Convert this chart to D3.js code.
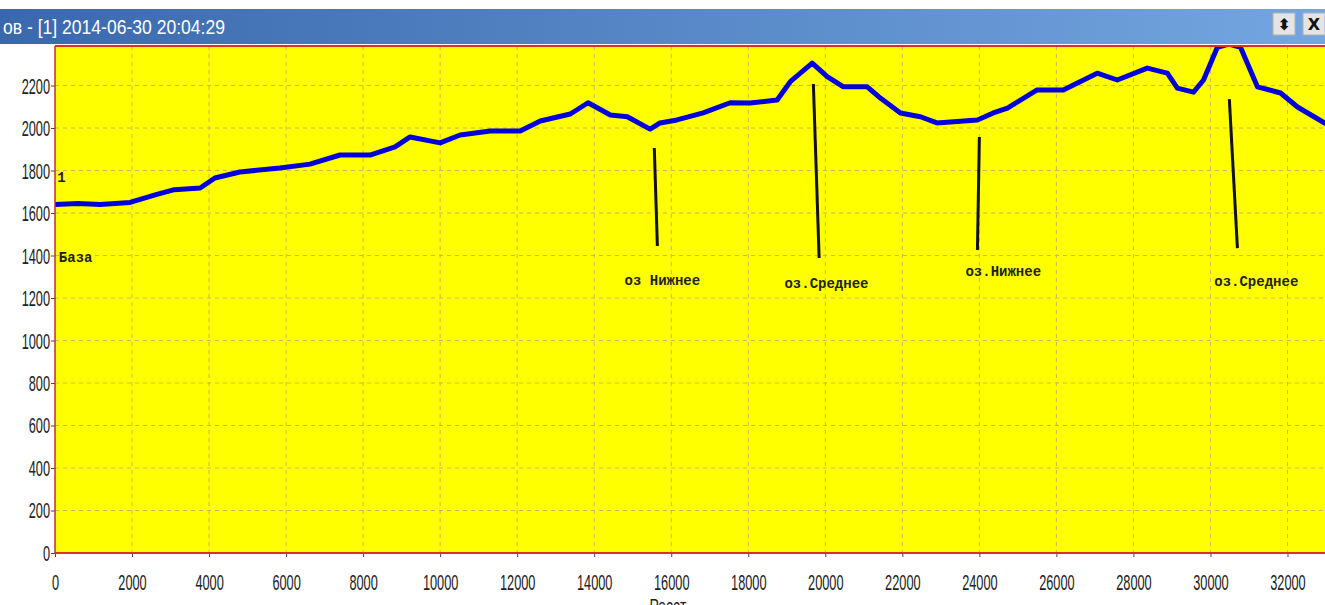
<!DOCTYPE html>
<meta charset="utf-8">
<style>
body { margin: 0; background: #fff; }
.tick text { font-family: "Liberation Sans", "DejaVu Sans", sans-serif; font-size: 22px; fill: #222; }
.grid line { stroke: #c9b75a; stroke-dasharray: 4,4; stroke-width: 1; }
.note { font-family: "Liberation Mono", "Courier New", monospace; font-weight: bold; font-size: 14px; fill: #222; }
.narrow { font-family: "Liberation Sans", "DejaVu Sans", sans-serif; }
</style>
<svg width="1325" height="605"></svg>
<script src="https://d3js.org/d3.v7.min.js"></script>
<script>
// profile data: distance / height
var dist = [0, 600, 1170, 1950, 2600, 3100, 3770, 4150, 4800, 5840, 6620, 7400, 8180, 8830, 9220, 10000, 10520, 11300, 12080, 12600, 13380, 13840,
            14420, 14860, 15450, 15710, 16150, 16830, 17530, 18050, 18750, 19090, 19660, 20050, 20470, 21090, 21430, 21950, 22470, 22900,
            23950, 24360, 24730, 25500, 26180, 27060, 27580, 28360, 28880, 29140, 29560, 29820, 30180, 30480, 30780, 31220, 31820, 32260, 33000];
var elev = [1640, 1645, 1640, 1650, 1685, 1710, 1718, 1765, 1793, 1812, 1830, 1873, 1873, 1911, 1958, 1930, 1967, 1986, 1986, 2033, 2066, 2119,
            2061, 2053, 1995, 2024, 2038, 2071, 2119, 2118, 2132, 2218, 2305, 2242, 2194, 2194, 2141, 2071, 2053, 2024,
            2038, 2071, 2094, 2179, 2179, 2258, 2226, 2282, 2258, 2188, 2169, 2226, 2380, 2395, 2380, 2194, 2165, 2099, 2020];

var xTicks = d3.range(0, 32001, 2000);
var yTicks = d3.range(0, 2201, 200);

// annotation marks (data units)
var noteLabels = ["оз Нижнее", "оз.Среднее", "оз.Нижнее", "оз.Среднее"];
var noteTop = [[15560, 1906], [19690, 2207], [24000, 1958], [30490, 2136]];
var noteBottom = [[15640, 1445], [19840, 1388], [23950, 1426], [30700, 1435]];
var noteText = [[15770, 1262], [20030, 1248], [24620, 1305], [31190, 1255]];

var svg = d3.select("svg");
var mLeft = 55, mTop = 46, mRight = 1326, mBottom = 553;
var squeeze = 0.58;

var x = d3.scaleLinear().domain([0, 33000]).range([mLeft, mRight]);
var y = d3.scaleLinear().domain([0, 2386]).range([mBottom, mTop]);

// title bar
var defs = svg.append("defs");
var grad = defs.append("linearGradient").attr("id", "bar");
grad.append("stop").attr("offset", "0%").attr("stop-color", "#3a68ad");
grad.append("stop").attr("offset", "100%").attr("stop-color", "#74a6e0");
svg.append("rect").attr("x", 0).attr("y", 9).attr("width", 1325).attr("height", 35).attr("fill", "url(#bar)");
svg.append("text").attr("class", "narrow").attr("x", 3).attr("y", 34)
  .attr("font-size", 21).attr("fill", "#fff")
  .attr("textLength", 222).attr("lengthAdjust", "spacingAndGlyphs")
  .text("ов - [1] 2014-06-30 20:04:29");

// window buttons
[[1273, "⬍"], [1303, "X"]].forEach(function(b) {
  svg.append("rect").attr("x", b[0]).attr("y", 13).attr("width", 22).attr("height", 22)
    .attr("fill", "#e4e4e4").attr("stroke", "#b0b0b0");
  svg.append("text").attr("x", b[0] + 11).attr("y", 30).attr("text-anchor", "middle")
    .attr("font-family", "DejaVu Sans, sans-serif").attr("font-weight", "bold").attr("font-size", 16)
    .attr("fill", "#111").text(b[1]);
});

// plot area
svg.append("rect").attr("x", mLeft).attr("y", mTop).attr("width", mRight - mLeft).attr("height", mBottom - mTop)
  .attr("fill", "#ffff00");

defs.append("clipPath").attr("id", "clip")
  .append("rect").attr("x", mLeft).attr("y", mTop).attr("width", mRight - mLeft).attr("height", mBottom - mTop);

// grid
var grid = svg.append("g").attr("class", "grid");
grid.selectAll(".gx").data(xTicks.slice(1)).enter().append("line")
  .attr("x1", x).attr("x2", x).attr("y1", mTop).attr("y2", mBottom);
grid.selectAll(".gy").data(yTicks.slice(1)).enter().append("line")
  .attr("x1", mLeft).attr("x2", mRight).attr("y1", y).attr("y2", y);

// profile line
svg.append("path").datum(d3.range(dist.length))
  .attr("clip-path", "url(#clip)")
  .attr("fill", "none").attr("stroke", "#0000dd").attr("stroke-width", 5).attr("stroke-linejoin", "round")
  .attr("d", d3.line().x(function(i) { return x(dist[i]); }).y(function(i) { return y(elev[i]); }));

// annotations
noteLabels.forEach(function(t, i) {
  svg.append("line")
    .attr("x1", x(noteTop[i][0])).attr("y1", y(noteTop[i][1]))
    .attr("x2", x(noteBottom[i][0])).attr("y2", y(noteBottom[i][1]))
    .attr("stroke", "#111").attr("stroke-width", 3);
  svg.append("text").attr("class", "note").attr("text-anchor", "middle")
    .attr("x", x(noteText[i][0])).attr("y", y(noteText[i][1])).text(t);
});
svg.append("text").attr("class", "note").attr("x", x(100)).attr("y", y(1370)).text("База");
svg.append("text").attr("class", "note").attr("font-weight", "normal").attr("x", x(60)).attr("y", y(1745)).text("1");

// axes
svg.append("g").attr("transform", "translate(0," + mBottom + ")")
  .call(d3.axisBottom(x).tickValues(xTicks).tickFormat(d3.format("d")).tickSize(4).tickPadding(17).tickSizeOuter(0))
  .call(function(g) {
    g.select(".domain").remove();
    g.selectAll(".tick line").attr("stroke", "#444");
    g.selectAll(".tick text").attr("transform", "scale(" + squeeze + ",1)");
  });
svg.append("g").attr("transform", "translate(" + mLeft + ",0)")
  .call(d3.axisLeft(y).tickValues(yTicks).tickFormat(d3.format("d")).tickSize(4).tickSizeOuter(0))
  .call(function(g) {
    g.select(".domain").remove();
    g.selectAll(".tick line").attr("stroke", "#444");
    g.selectAll(".tick text").attr("x", -5 / squeeze).attr("dy", "0.34em").attr("transform", "scale(" + squeeze + ",1)");
  });

// border
svg.append("line").attr("x1", mLeft).attr("x2", mRight).attr("y1", mTop).attr("y2", mTop).attr("stroke", "#e0301a").attr("stroke-width", 2);
svg.append("line").attr("x1", mLeft).attr("x2", mRight).attr("y1", mBottom).attr("y2", mBottom).attr("stroke", "#e0301a").attr("stroke-width", 2);
svg.append("line").attr("x1", mLeft).attr("x2", mLeft).attr("y1", mTop).attr("y2", mBottom).attr("stroke", "#c0302a").attr("stroke-width", 1.5);

svg.append("text").attr("class", "narrow").attr("x", 668 / 0.7).attr("y", 613).attr("text-anchor", "middle")
  .attr("transform", "scale(0.7,1)")
  .attr("font-size", 20).attr("fill", "#222")
  .text("Расст");
</script>
